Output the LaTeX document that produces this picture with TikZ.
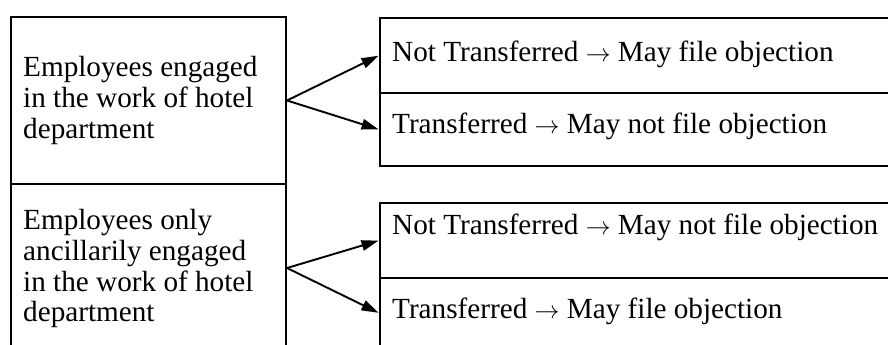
\documentclass[tikz,border=0pt]{standalone}
\usepackage{fontspec}
\setmainfont{Liberation Serif}
\usetikzlibrary{arrows.meta}
\tikzset{
  boxshape/.style={draw=black, line width=2pt, rectangle, inner sep=0pt, anchor=north west},
  lbl/.style={inner sep=0pt, font=\fontsize{29.2}{30.8}\selectfont, align=left},
  arr/.style={line width=1.9pt, -{Triangle[length=17pt,width=10.5pt]}, shorten >=0.5pt}
}
\begin{document}
\begin{tikzpicture}[x=1pt,y=-1pt]
\useasboundingbox (0,0) rectangle (888,345);
\fill[white] (0,0) rectangle (888,345);
\clip (0,0) rectangle (888,345);
% left boxes
\node[boxshape, minimum width=275pt, minimum height=167pt] (A) at (10,16) {};
\node[boxshape, minimum width=275pt, minimum height=168pt] (B) at (10,183) {};
% right boxes
\node[boxshape, minimum width=530pt, minimum height=75pt] (R1) at (379,17) {};
\node[boxshape, minimum width=530pt, minimum height=73pt] (R2) at (379,92) {};
\node[boxshape, minimum width=530pt, minimum height=75pt] (R3) at (379,202) {};
\node[boxshape, minimum width=530pt, minimum height=70pt] (R4) at (379,277) {};
% texts
\node[lbl, anchor=north west] (tA) at (23,56) {Employees engaged\\in the work of hotel\\department};
\node[lbl, anchor=north west] (tB) at (23,209) {Employees only\\ancillarily engaged\\in the work of hotel\\department};
\node[lbl, anchor=base west] (t1) at (392,62) {Not Transferred $\rightarrow$ May file objection};
\node[lbl, anchor=base west] (t2) at (392,133) {Transferred $\rightarrow$ May not file objection};
\node[lbl, anchor=base west] (t3) at (392,234) {Not Transferred $\rightarrow$ May not file objection};
\node[lbl, anchor=base west] (t4) at (392,318) {Transferred $\rightarrow$ May file objection};
% arrows
\draw[arr] (A.east) -- (R1.west);
\draw[arr] (A.east) -- (R2.west);
\draw[arr] (B.east) -- (R3.west);
\draw[arr] (B.east) -- (R4.west);
\end{tikzpicture}
\end{document}
